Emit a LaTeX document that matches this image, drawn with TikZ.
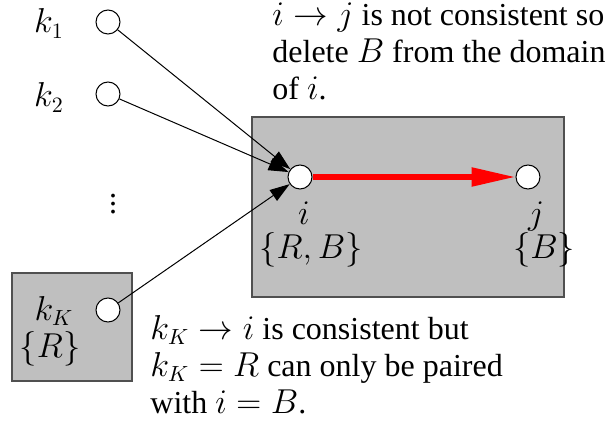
\documentclass[tikz,border=0pt]{standalone}
\usepackage{fontspec}
\setmainfont{Liberation Serif}
\usepackage{tikz}
\usetikzlibrary{arrows.meta}
\definecolor{domGray}{HTML}{BFBFBF}
\definecolor{domEdge}{HTML}{505050}
\definecolor{arcRed}{HTML}{FF0000}

\begin{document}
\begin{tikzpicture}[
      x=0.5pt, y=-0.5pt,
      every node/.style={font=\fontsize{16}{18.5}\selectfont},
      dombox/.style={rectangle, fill=domGray, draw=domEdge, line width=0.6pt, inner sep=0pt},
      vtx/.style={circle, draw=black, fill=white, line width=0.5pt, minimum size=12pt, inner sep=0pt},
      lbl/.style={anchor=base, inner sep=0pt},
      note/.style={anchor=base west, align=left, inner sep=0pt},
      arr/.style={-{Triangle[length=10pt, width=6.5pt]}, line width=0.5pt},
      redarr/.style={-{Triangle[length=22pt, width=9pt]}, arcRed, line width=2.7pt},
    ]
      \useasboundingbox (0,0) rectangle (610,422);

      % domains
      \node[dombox, minimum width=156pt, minimum height=90pt] (bigdom) at (408,207) {};
      \node[dombox, minimum width=60pt, minimum height=54pt] (smalldom) at (72,327) {};

      % variables
      \node[vtx] (k1) at (108,22) {};
      \node[vtx] (k2) at (108,94) {};
      \node[vtx] (kK) at (108,310) {};
      \node[vtx] (i) at (300,177) {};
      \node[vtx] (j) at (528,177) {};

      \node[lbl] (k1lbl) at (49,33) {$k_1$};
      \node[lbl] (k2lbl) at (49,107) {$k_2$};
      \node (dots) at (113,198) {$\vdots$};
      \node[lbl] (kKlbl) at (54,320) {$k_K$};
      \node[lbl] (kKdom) at (50,357) {$\{R\}$};
      \node[lbl] (ilbl) at (304,225) {$i$};
      \node[lbl] (idom) at (311,258) {$\{R,B\}$};
      \node[lbl] (jlbl) at (536,225) {$j$};
      \node[lbl] (jdom) at (544,258) {$\{B\}$};

      % notes (anchored on the last line)
      \node[note] (topnote) at (272,100) {$i \rightarrow j$ is not consistent so\\ delete $B$ from the domain\\ of $i$.};
      \node[note] (botnote) at (150,413) {$k_K \rightarrow i$ is consistent but\\ $k_K = R$ can only be paired\\ with $i = B$.};

      % arcs
      \draw[arr] (k1) -- (i);
      \draw[arr] (k2) -- (i);
      \draw[arr] (kK) -- (i);
      \draw[redarr] (i) -- (j);

    \end{tikzpicture}
\end{document}
